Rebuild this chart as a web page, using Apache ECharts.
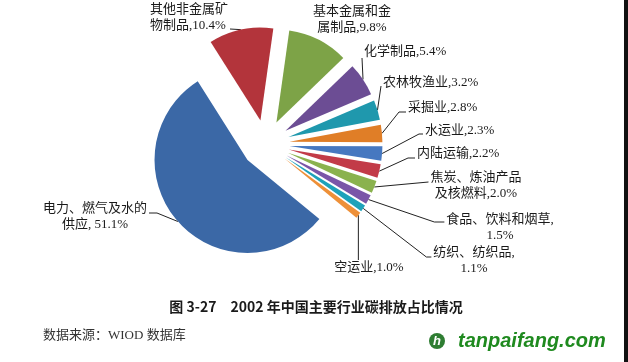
<!DOCTYPE html>
<html><head><meta charset="utf-8">
<script src="https://cdn.jsdelivr.net/npm/echarts@6/dist/echarts.min.js"></script>
<style>html,body{margin:0;padding:0;background:#fff;}#c{width:628px;height:362px;}</style>
</head><body><div id="c"></div>
<script>
// ---- data ----
const categories = ['电力、燃气及水的供应', '其他非金属矿物制品', '基本金属和金属制品', '化学制品', '农林牧渔业', '采掘业', '水运业', '内陆运输', '焦炭、炼油产品及核燃料', '食品、饮料和烟草', '纺织、纺织品', '空运业'];
const shares = [51.1, 10.4, 9.8, 5.4, 3.2, 2.8, 2.3, 2.2, 2.0, 1.5, 1.1, 1.0];
const labelPrefixes = ['电力、燃气及水的\n供应, ', '其他非金属矿\n物制品,', '基本金属和金\n属制品,', '化学制品,', '农林牧渔业,', '采掘业,', '水运业,', '内陆运输,', '焦炭、炼油产品\n及核燃料,', '食品、饮料和烟草,\n', '纺织、纺织品,\n', '空运业,'];
const colors = ['#3B68A6', '#B3343B', '#7DA347', '#6C4D94', '#1F98AD', '#E07E27', '#4678C0', '#C23B48', '#8AB24E', '#7A56A8', '#1EA2BA', '#EE9038'];

// ---- layout ----
const CX = 265.5, CY = 144, R = 93, EXPLODE = 24, START = 320.6;
const FONT = '"Liberation Serif", "Noto Sans CJK SC", serif';
// x, top, align, attach side, attach y offset, elbow length
const labelSpots = [
  [95, 201, 'center', 'right', 12, 8],
  [150, 2, 'left', 'right', 27, 0],
  [352, 4, 'center', 'none', 0, 0],
  [364, 44, 'left', 'left', 14, 0],
  [383, 75, 'left', 'left', 11, 0],
  [408, 100, 'left', 'left', 12, 7],
  [425, 123, 'left', 'left', 11, 4],
  [417, 146, 'left', 'left', 12, 7],
  [476, 170, 'center', 'left', 12, 0],
  [500, 212, 'center', 'left', 10, 10],
  [474, 245, 'center', 'left', 12, 5],
  [369, 260, 'center', 'top', 0, 0]
];

const total = shares.reduce((a, b) => a + b, 0);
let cum = 0;
const geo = shares.map(v => {
  const s = START - cum / total * 360;
  const e = s - v / total * 360;
  cum += v;
  const mid = (s + e) / 2 * Math.PI / 180;
  const c = [CX + EXPLODE * Math.cos(mid), CY - EXPLODE * Math.sin(mid)];
  const edge = [c[0] + R * Math.cos(mid), c[1] - R * Math.sin(mid)];
  return { start: s, center: c, edge: edge };
});

function makeLayout(i) {
  return function (p) {
    const sp = labelSpots[i];
    const w = p.labelRect.width;
    const left = sp[2] === 'center' ? sp[0] - w / 2 : sp[0];
    const out = { x: sp[0], y: sp[1], align: sp[2], verticalAlign: 'top' };
    const st = geo[i].edge;
    let pts = null;
    if (sp[3] === 'left') {
      const end = [left - 2, sp[1] + sp[4]];
      pts = sp[5] > 0 ? [st, [end[0] - sp[5], end[1]], end] : [st, end];
    } else if (sp[3] === 'right') {
      const end = [left + w + 2, sp[1] + sp[4]];
      pts = sp[5] > 0 ? [st, [end[0] + sp[5], end[1]], end] : [st, end];
    } else if (sp[3] === 'top') {
      pts = [st, [st[0], sp[1]]];
    }
    if (pts) out.labelLinePoints = pts;
    return out;
  };
}

const series = shares.map((v, i) => ({
  type: 'pie',
  silent: true,
  animation: false,
  clockwise: true,
  startAngle: geo[i].start,
  center: geo[i].center,
  radius: R,
  avoidLabelOverlap: false,
  emphasis: { disabled: true },
  itemStyle: { borderWidth: 0 },
  label: {
    show: true, position: 'outside',
    formatter: labelPrefixes[i] + v.toFixed(1) + '%',
    fontSize: 13, lineHeight: 16, color: '#1a1a1a', fontFamily: FONT
  },
  labelLine: { show: labelSpots[i][3] !== 'none', lineStyle: { color: '#222', width: 1 } },
  labelLayout: makeLayout(i),
  data: [
    { value: v, name: categories[i], itemStyle: { color: colors[i] } },
    { value: total - v, name: '', itemStyle: { color: 'rgba(0,0,0,0)' }, label: { show: false }, labelLine: { show: false } }
  ]
}));

const chart = echarts.init(document.getElementById('c'), null, { renderer: 'canvas' });
chart.setOption({
  backgroundColor: '#ffffff',
  animation: false,
  series: series,
  graphic: [
    { type: 'text', x: 316, y: 307, style: { text: '图 3-27\u20032002 年中国主要行业碳排放占比情况', font: 'bold 14px "Noto Sans CJK SC"', fill: '#1a1a1a', align: 'center', verticalAlign: 'middle' } },
    { type: 'text', x: 43, y: 336, style: { text: '数据来源：WIOD 数据库', font: '13px ' + FONT, fill: '#333', align: 'left', verticalAlign: 'middle' } },
    { type: 'circle', shape: { cx: 437, cy: 341, r: 8 }, style: { fill: '#2E7D32' } },
    { type: 'text', x: 437, y: 341, style: { text: 'h', font: 'italic bold 13px "Liberation Sans"', fill: '#fff', align: 'center', verticalAlign: 'middle' } },
    { type: 'text', x: 458, y: 341, style: { text: 'tanpaifang.com', font: 'italic bold 20px "Liberation Sans"', fill: '#1F8A1F', align: 'left', verticalAlign: 'middle' } },
    { type: 'rect', shape: { x: 624, y: 0, width: 4, height: 362 }, style: { fill: '#111' } }
  ]
});
</script>
</body></html>
